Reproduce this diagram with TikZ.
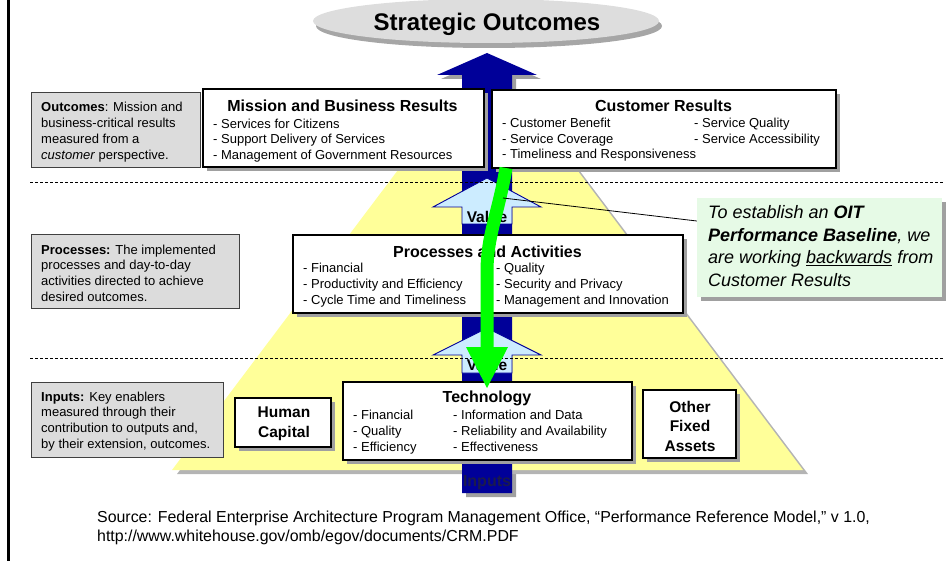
\documentclass[tikz,border=0pt]{standalone}
\usepackage{fontspec}
\setmainfont{Liberation Sans}
\usetikzlibrary{shapes.geometric,shadows}
\definecolor{navy}{HTML}{000099}
\definecolor{valueblue}{HTML}{CCECFF}
\definecolor{pyryellow}{HTML}{FFFF99}
\definecolor{pyrshadow}{HTML}{B4B4B4}
\definecolor{boxshadow}{HTML}{A0A0A0}
\definecolor{descgray}{HTML}{DCDCDC}
\definecolor{ellgray}{HTML}{DDDDDD}
\definecolor{ellshadow}{HTML}{A6A6A6}
\definecolor{noteback}{HTML}{E6FAE6}
\definecolor{brightgreen}{HTML}{00FF00}
\definecolor{inputstxt}{HTML}{1A1A4D}
\newcommand\fsz[2]{\fontsize{#1}{#2}\selectfont}
\begin{document}
\begin{tikzpicture}[x=1pt,y=-1pt,
  wbox/.style={draw=black, line width=1.2pt, fill=white, inner sep=0pt, outer sep=0pt,
    drop shadow={shadow xshift=4pt, shadow yshift=-4pt, fill=boxshadow, opacity=1}},
  gbox/.style={draw=black!75, line width=0.8pt, fill=descgray, inner sep=0pt, outer sep=0pt},
  itemtxt/.style={anchor=base west, inner sep=0pt, align=left, font=\fsz{13}{15.5}},
  desctxt/.style={anchor=base west, inner sep=0pt, align=left, font=\fsz{13}{15.7}},
  titletxt/.style={anchor=base, inner sep=0pt, font=\fsz{16}{19}\bfseries},
  assettxt/.style={inner sep=0pt, align=center, font=\fsz{15.5}{19.5}\bfseries},
  valuetxt/.style={inner sep=0pt, font=\fsz{15.5}{18}\bfseries},
  valuearrow/.style={draw=navy, line width=0.9pt, fill=valueblue, line join=miter},
  layerline/.style={line width=0.7pt, dash pattern=on 3pt off 2pt}
]
\useasboundingbox (0,0) rectangle (952,561);

% frame edge on the left
\draw[line width=2.5pt] (8.5,-2) -- (8.5,563);

% Strategic Outcomes ellipse
\node[ellipse, fill=ellgray, minimum width=346pt, minimum height=44pt, inner sep=0pt,
  drop shadow={shadow xshift=3pt, shadow yshift=-5pt, fill=ellshadow, opacity=1}] (so) at (486,21) {};
\node[anchor=base, inner sep=0pt, font=\fsz{24}{28}\bfseries] (sotxt) at (487,31) {Strategic Outcomes};

% shadow of the main upward arrow
\fill[boxshadow] (491,57) -- (541,79) -- (516,79) -- (516,497) -- (466,497) -- (466,79) -- (441,79) -- cycle;

% pyramid with its shadow
\fill[pyrshadow] (425.6,144) -- (559.5,144) -- (808,474) -- (177,474) -- cycle;
\fill[pyryellow] (420.6,140) -- (554.5,140) -- (803,470) -- (172,470) -- cycle;

% main upward arrow
\fill[navy] (487,53) -- (537,75) -- (512,75) -- (512,493) -- (462,493) -- (462,75) -- (437,75) -- cycle;
\node[inner sep=0pt, font=\fsz{16}{18}\bfseries, text=inputstxt] (inputs) at (487,483) {Inputs};

% value arrows
\draw[valuearrow] (487,178) -- (541,207) -- (512,207) -- (512,224) -- (462,224) -- (462,207) -- (433,207) -- cycle;
\node[valuetxt] (val1) at (487,217) {Value};
\draw[valuearrow] (487,328) -- (541,355) -- (512,355) -- (512,373) -- (462,373) -- (462,355) -- (433,355) -- cycle;
\node[valuetxt] (val2) at (487,365) {Value};

% layer separators
\draw[layerline] (30,182) -- (943,182);
\draw[layerline] (30,358) -- (943,358);

% layer descriptions (multi-line texts are placed by their last baseline)
\node[gbox, minimum width=169pt, minimum height=75pt] (outc) at (115.5,129.5) {};
\node[desctxt] (outctxt) at (41,159.1) {\textbf{Outcomes}: Mission and\\business-critical results\\measured from a\\\textit{customer} perspective.};
\node[gbox, minimum width=208pt, minimum height=74pt] (proc) at (135,271) {};
\node[desctxt] (proctxt) at (41,301.1) {\textbf{Processes:} The implemented\\processes and day-to-day\\activities directed to achieve\\desired outcomes.};
\node[gbox, minimum width=192pt, minimum height=75pt] (inp) at (127,419.5) {};
\node[desctxt] (inptxt) at (41,448.1) {\textbf{Inputs:} Key enablers\\measured through their\\contribution to outputs and,\\by their extension, outcomes.};

% outcome boxes
\node[wbox, minimum width=281pt, minimum height=78pt] (mbr) at (343.5,128) {};
\node[titletxt] (mbrtitle) at (342.5,111.5) {Mission and Business Results};
\node[itemtxt] (mbritems) at (213,159.5) {- Services for Citizens\\- Support Delivery of Services\\- Management of Government Resources};

\node[wbox, minimum width=344pt, minimum height=78pt] (cr) at (664,129) {};
\node[titletxt] (crtitle) at (663.5,112) {Customer Results};
\node[itemtxt] (cra) at (502,159) {- Customer Benefit\\- Service Coverage\\- Timeliness and Responsiveness};
\node[itemtxt] (crb) at (694,143.5) {- Service Quality\\- Service Accessibility};

% processes box
\node[wbox, minimum width=390pt, minimum height=78pt] (pa) at (488,274) {};
\node[titletxt] (patitle) at (487.5,257.5) {Processes and Activities};
\node[itemtxt, font=\fsz{13}{16}] (paa) at (303,304.5) {- Financial\\- Productivity and Efficiency\\- Cycle Time and Timeliness};
\node[itemtxt, font=\fsz{13}{16}] (pab) at (496,304.5) {- Quality\\- Security and Privacy\\- Management and Innovation};

% input boxes
\node[wbox, minimum width=96pt, minimum height=49pt] (hc) at (283,422.5) {};
\node[assettxt] (hctxt) at (284,424) {Human\\Capital};
\node[wbox, minimum width=289pt, minimum height=78pt] (tech) at (487.5,421) {};
\node[titletxt] (techtitle) at (487,402.5) {Technology};
\node[itemtxt, font=\fsz{13}{16}] (techa) at (353,451.5) {- Financial\\- Quality\\- Efficiency};
\node[itemtxt, font=\fsz{13}{16}] (techb) at (453,451.5) {- Information and Data\\- Reliability and Availability\\- Effectiveness};
\node[wbox, minimum width=93pt, minimum height=68pt] (ofa) at (689.5,424) {};
\node[assettxt] (ofatxt) at (690,426) {Other\\Fixed\\Assets};

% working backwards arrow
\draw[brightgreen, line width=13pt] (506,168) .. controls (498,215) and (487,235) .. (487,272) -- (487,348);
\fill[brightgreen] (466,347) -- (508,347) -- (487,388) -- cycle;

% note with pointer
\node[fill=noteback, minimum width=245pt, minimum height=99pt, inner sep=0pt,
  drop shadow={shadow xshift=4pt, shadow yshift=-4pt, fill=boxshadow, opacity=1}] (oit) at (819.5,247.5) {};
\coordinate (ptr) at (503,198);
\draw[line width=0.8pt] (ptr) -- ([yshift=26.5pt]oit.west);
\node[anchor=base west, inner sep=0pt, align=left, font=\fsz{18}{22.5}\itshape] (oittxt) at (708,286)
  {To establish an \textbf{OIT}\\\textbf{Performance Baseline}, we\\are working \underline{backwards} from\\Customer Results};

% source
\node[anchor=base west, inner sep=0pt, align=left, font=\fsz{15.9}{19}] (src) at (97,541.5)
  {Source: Federal Enterprise Architecture Program Management Office, “Performance Reference Model,” v 1.0,\\http://www.whitehouse.gov/omb/egov/documents/CRM.PDF};
\end{tikzpicture}
\end{document}
